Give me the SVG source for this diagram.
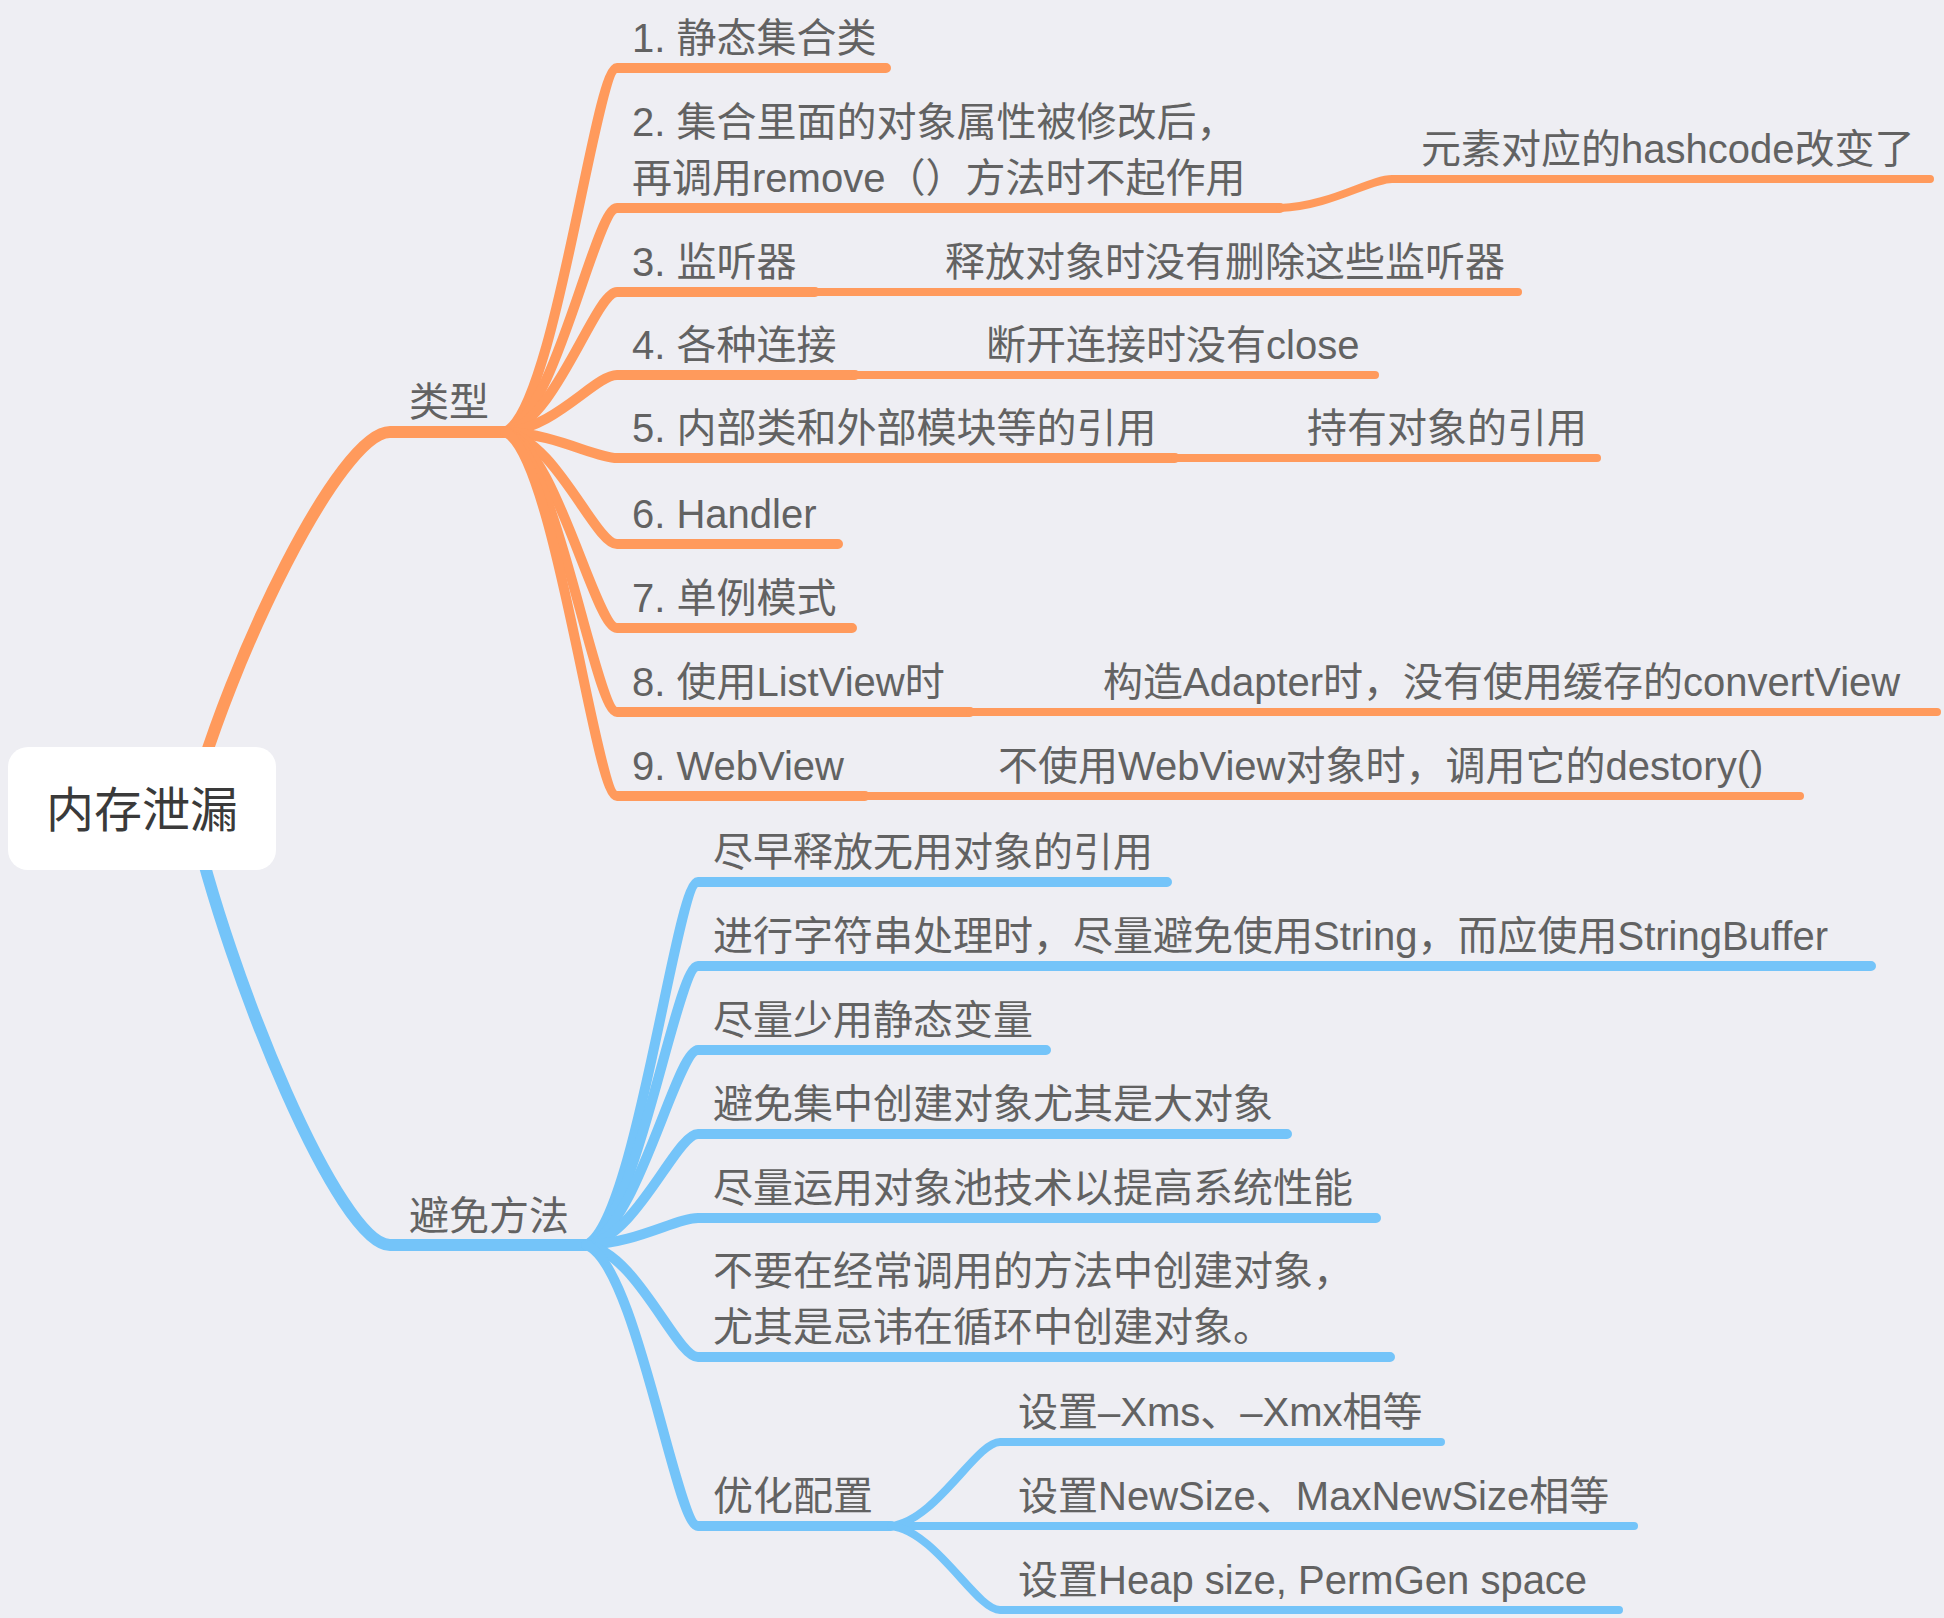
<svg xmlns="http://www.w3.org/2000/svg" width="1944" height="1618" viewBox="0 0 1944 1618">
<style>
.bg{fill:#EEEEF3}
.c{fill:none;stroke-linecap:round;stroke-linejoin:round}
.o{stroke:#FF9A5C}
.b{stroke:#74C4F9}
.w1{stroke-width:12}
.w2{stroke-width:10}
.w3{stroke-width:8}
text{font-family:"Liberation Sans","Noto Sans CJK SC",sans-serif;font-size:40px;fill:#626262}
.root{font-size:48px;fill:#3A3A3A}
</style>
<rect class="bg" x="0" y="0" width="1944" height="1618"/>
<g id="connectors">
<path class="c o w1" d="M190,808 C230,658 340,432 390,432 L505,432"/>
<path class="c b w1" d="M190,808 C230,983 340,1245 390,1245 L586,1245"/>
<path class="c o w2" d="M505,432 C555,410.2 595,68 617,68 L886,68"/>
<path class="c o w2" d="M505,432 C555,418.6 595,208 617,208 L1280,208"/>
<path class="c o w2" d="M505,432 C555,423.6 595,292 617,292 L815,292"/>
<path class="c o w2" d="M505,432 C555,428.6 595,375 617,375 L855,375"/>
<path class="c o w2" d="M505,432 C555,433.6 595,458 617,458 L1175,458"/>
<path class="c o w2" d="M505,432 C555,438.7 595,544 617,544 L838,544"/>
<path class="c o w2" d="M505,432 C555,443.8 595,628 617,628 L852,628"/>
<path class="c o w2" d="M505,432 C555,448.8 595,712 617,712 L970,712"/>
<path class="c o w2" d="M505,432 C555,453.8 595,796 617,796 L865,796"/>
<path class="c o w3" d="M1280,208 C1330,206.3 1370,179 1392,179 L1930,179"/>
<path class="c o w3" d="M815,292 L1518,292"/>
<path class="c o w3" d="M855,375 L1375,375"/>
<path class="c o w3" d="M1175,458 L1597,458"/>
<path class="c o w3" d="M970,712 L1937,712"/>
<path class="c o w3" d="M865,796 L1800,796"/>
<path class="c b w2" d="M586,1245 C636,1223.2 676,882 698,882 L1167,882"/>
<path class="c b w2" d="M586,1245 C636,1228.3 676,966 698,966 L1871,966"/>
<path class="c b w2" d="M586,1245 C636,1233.3 676,1050 698,1050 L1046,1050"/>
<path class="c b w2" d="M586,1245 C636,1238.3 676,1134 698,1134 L1287,1134"/>
<path class="c b w2" d="M586,1245 C636,1243.4 676,1218 698,1218 L1376,1218"/>
<path class="c b w2" d="M586,1245 C636,1251.7 676,1357 698,1357 L1390,1357"/>
<path class="c b w2" d="M586,1245 C636,1261.9 676,1526 698,1526 L891,1526"/>
<path class="c b w3" d="M891,1526 C936,1521 976,1442 1000,1442 L1441,1442"/>
<path class="c b w3" d="M891,1526 L1634,1526"/>
<path class="c b w3" d="M891,1526 C936,1531 976,1610 1000,1610 L1619,1610"/>
</g>
<g id="root">
<rect x="8" y="747" width="268" height="123" rx="20" fill="#FFFFFF"/>
<text class="root" x="142" y="827" text-anchor="middle">内存泄漏</text>
</g>
<g id="types"><text x="409" y="416">类型</text></g>
<g id="t1"><text x="632" y="52">1. 静态集合类</text></g>
<g id="t2"><text x="632" y="136">2. 集合里面的对象属性被修改后，</text><text x="632" y="192">再调用remove（）方法时不起作用</text></g>
<g id="t2c"><text x="1421" y="163">元素对应的hashcode改变了</text></g>
<g id="t3"><text x="632" y="276">3. 监听器</text></g>
<g id="t3c"><text x="945" y="276">释放对象时没有删除这些监听器</text></g>
<g id="t4"><text x="632" y="359">4. 各种连接</text></g>
<g id="t4c"><text x="986" y="359">断开连接时没有close</text></g>
<g id="t5"><text x="632" y="442">5. 内部类和外部模块等的引用</text></g>
<g id="t5c"><text x="1307" y="442">持有对象的引用</text></g>
<g id="t6"><text x="632" y="528">6. Handler</text></g>
<g id="t7"><text x="632" y="612">7. 单例模式</text></g>
<g id="t8"><text x="632" y="696">8. 使用ListView时</text></g>
<g id="t8c"><text x="1103" y="696">构造Adapter时，没有使用缓存的convertView</text></g>
<g id="t9"><text x="632" y="780">9. WebView</text></g>
<g id="t9c"><text x="998" y="780">不使用WebView对象时，调用它的destory()</text></g>
<g id="avoid"><text x="409" y="1230">避免方法</text></g>
<g id="b1"><text x="713" y="866">尽早释放无用对象的引用</text></g>
<g id="b2"><text x="713" y="950">进行字符串处理时，尽量避免使用String，而应使用StringBuffer</text></g>
<g id="b3"><text x="713" y="1034">尽量少用静态变量</text></g>
<g id="b4"><text x="713" y="1118">避免集中创建对象尤其是大对象</text></g>
<g id="b5"><text x="713" y="1202">尽量运用对象池技术以提高系统性能</text></g>
<g id="b6"><text x="713" y="1285">不要在经常调用的方法中创建对象，</text><text x="713" y="1341">尤其是忌讳在循环中创建对象。</text></g>
<g id="b7"><text x="713" y="1510">优化配置</text></g>
<g id="c1"><text x="1018" y="1426">设置–Xms、–Xmx相等</text></g>
<g id="c2"><text x="1018" y="1510">设置NewSize、MaxNewSize相等</text></g>
<g id="c3"><text x="1018" y="1594">设置Heap size, PermGen space</text></g>
</svg>
